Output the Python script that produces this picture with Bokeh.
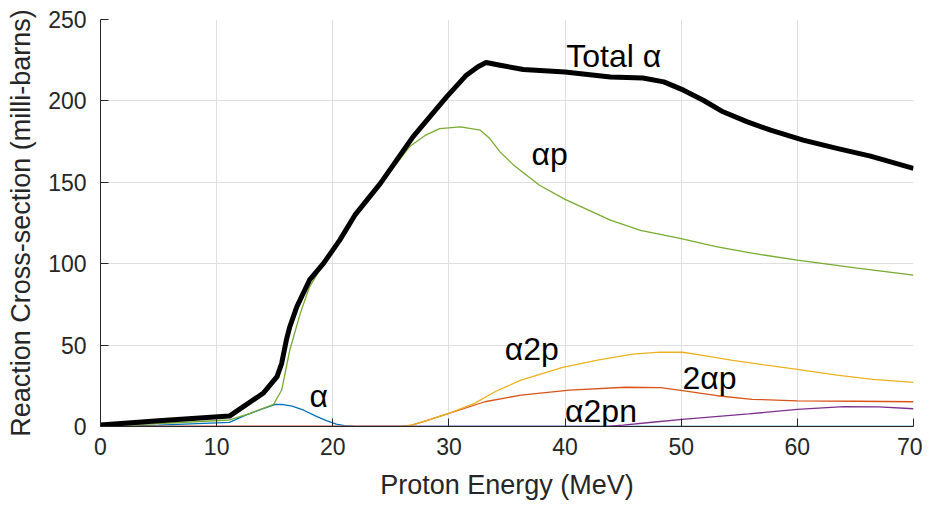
from bokeh.plotting import figure
from bokeh.models import Range1d, Label, FixedTicker
from bokeh.embed import file_html
from bokeh.resources import INLINE

# ---- data ----
energy_total = [0, 5, 11.1, 12.3, 14.0, 15.2, 15.6, 16.0, 16.3, 16.9, 18.0, 19.2, 20.6, 21.9,
                24.1, 26.9, 29.8, 31.5, 32.5, 33.2, 34.4, 36.4, 40.0, 43.9, 46.7, 48.5, 50.2, 51.9,
                53.6, 55.7, 57.7, 60.5, 63.4, 66.3, 70.0]
sigma_total = [0.9, 3.5, 6.4, 12.2, 20.4, 30.6, 38.8, 53.0, 61.3, 73.5, 90.0, 100.2, 114.5, 129.8,
               149.3, 177.9, 202.5, 215.8, 221.0, 223.6, 221.9, 219.3, 217.8, 214.7, 214.1, 211.7, 206.6, 200.4,
               193.3, 187.1, 182.0, 175.9, 170.8, 166.1, 158.5]

energy_ap = [0, 11.1, 12.9, 14.9, 15.6, 16.3, 17.2, 18.0, 19.9, 21.9, 24.1, 26.6, 28.0, 29.2,
             31.0, 32.7, 33.5, 34.4, 35.5, 37.8, 40.0, 43.9, 46.5, 49.9, 53.0, 56.2, 60.0, 65.0, 70.0]
sigma_ap = [0, 4.0, 8.1, 13.6, 22.4, 47.0, 69.5, 85.8, 108.3, 128.5, 148.5, 171.8, 179.0, 183.0,
            184.0, 182.0, 177.0, 168.7, 161.0, 148.2, 139.5, 126.8, 120.5, 115.5, 110.5, 106.3, 102.2, 97.5, 93.0]

energy_a = [0, 5, 11.1, 12.5, 14.0, 15.0, 15.7, 16.5, 17.5, 18.5, 19.5, 20.3, 21.0, 22.0, 70.0]
sigma_a = [0, 0.8, 2.5, 7.0, 11.0, 13.5, 13.5, 12.5, 10.0, 6.5, 3.5, 1.5, 0.5, 0, 0]

energy_a2p = [0, 26.0, 26.8, 28.0, 30.0, 32.2, 34.0, 36.2, 39.8, 42.8, 45.8, 48.2, 50.1, 52.0,
              54.3, 57.0, 60.0, 63.4, 66.5, 70.0]
sigma_a2p = [0, 0, 0.9, 3.5, 8.1, 14.2, 21.5, 28.5, 36.3, 40.8, 44.5, 45.7, 45.6, 43.5,
             40.8, 38.0, 35.1, 31.6, 29.0, 27.1]

energy_2ap = [0, 26.0, 26.8, 28.0, 30.0, 33.1, 36.2, 40.4, 45.2, 48.2, 50.1, 53.1, 56.1, 60.0, 65.0, 70.0]
sigma_2ap = [0, 0, 0.9, 3.5, 8.1, 15.2, 19.3, 22.4, 24.1, 23.9, 22.0, 18.9, 16.7, 15.8, 15.5, 15.2]

energy_a2pn = [0, 43.5, 45.0, 47.5, 50.1, 55.8, 60.0, 64.0, 67.0, 70.0]
sigma_a2pn = [0, 0, 0.8, 2.6, 4.4, 7.7, 10.5, 12.2, 12.0, 10.9]

x_ticks = [0, 10, 20, 30, 40, 50, 60, 70]
y_ticks = [0, 50, 100, 150, 200, 250]

label_texts = ["Total α", "αp", "α", "α2p", "2αp", "α2pn"]
label_x = [40.1, 37.1, 18.0, 34.8, 50.1, 40.0]
label_y = [227.5, 167.1, 18.7, 47.3, 29.8, 9.5]

FONT = "Liberation Sans"
AX = "#262626"

p = figure(width=922, height=503, output_backend="svg", toolbar_location=None,
           x_range=Range1d(0, 70), y_range=Range1d(0, 250),
           min_border_left=100, min_border_right=9, min_border_top=19, min_border_bottom=77,
           background_fill_color="white", border_fill_color="white")
p.outline_line_color = None

for ax in (p.xaxis[0], p.yaxis[0]):
    ax.axis_line_color = AX
    ax.axis_line_width = 1
    ax.major_tick_in = 8
    ax.major_tick_out = 0
    ax.major_tick_line_color = AX
    ax.minor_tick_line_color = None
    ax.major_label_text_font = FONT
    ax.major_label_text_font_size = "23px"
    ax.major_label_text_color = AX
    ax.axis_label_text_font = FONT
    ax.axis_label_text_font_size = "27px"
    ax.axis_label_text_font_style = "normal"
    ax.axis_label_text_color = AX

p.xaxis[0].ticker = FixedTicker(ticks=x_ticks)
p.yaxis[0].ticker = FixedTicker(ticks=y_ticks)
p.xaxis.axis_label = "Proton Energy (MeV)"
p.yaxis.axis_label = "Reaction Cross-section (milli-barns)"
p.xaxis.major_label_standoff = 11
p.yaxis.major_label_standoff = 14
p.xaxis.axis_label_standoff = 12
p.yaxis.axis_label_standoff = 9

for g in (p.xgrid[0], p.ygrid[0]):
    g.grid_line_color = "#dfdfdf"
    g.grid_line_width = 1

p.line(energy_a, sigma_a, line_color="#0072BD", line_width=1.3)
p.line(energy_2ap, sigma_2ap, line_color="#D95319", line_width=1.3)
p.line(energy_a2p, sigma_a2p, line_color="#EDB120", line_width=1.3)
p.line(energy_a2pn, sigma_a2pn, line_color="#7E2F8E", line_width=1.3)
p.line(energy_ap, sigma_ap, line_color="#77AC30", line_width=1.3)
p.line(energy_total, sigma_total, line_color="black", line_width=5, line_join="round")

for t, lx, ly in zip(label_texts, label_x, label_y):
    p.add_layout(Label(x=lx, y=ly, text=t, text_font=FONT, text_font_size="32px",
                       text_color="black", text_baseline="alphabetic", text_align="left"))

open("out.html", "w").write(file_html(p, INLINE))
